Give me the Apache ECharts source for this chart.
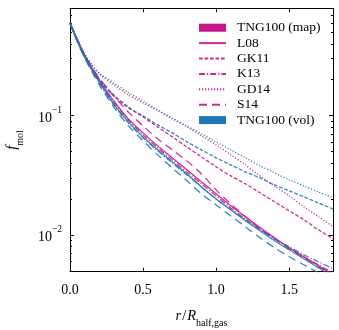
<!DOCTYPE html>
<html>
<head>
<meta charset="utf-8">
<script src="https://cdn.jsdelivr.net/npm/echarts@6/dist/echarts.min.js"></script>
<style>html,body{margin:0;padding:0;background:#fff;}#c{width:339px;height:330px;}</style>
</head>
<body>
<div id="c"></div>
<script>
// radius grid r / R_half,gas
const xs = [0,0.05,0.1,0.15,0.2,0.3,0.4,0.5,0.6,0.7,0.8,0.9,1.0,1.1,1.2,1.3,1.4,1.5,1.6,1.7,1.8];
// TNG100 (map) f_mol profiles
const L08_map  = [0.610,0.431,0.323,0.251,0.199,0.133,0.0938,0.0716,0.0557,0.0442,0.0351,0.0278,0.0221,0.0175,0.0142,0.0115,0.00944,0.00778,0.00654,0.0055,0.00462];
const GK11_map = [0.598,0.431,0.317,0.251,0.203,0.149,0.118,0.0975,0.0804,0.0663,0.0546,0.0450,0.0372,0.0312,0.0268,0.0225,0.0189,0.0159,0.0134,0.0110,0.00926];
const K13_map  = [0.598,0.423,0.317,0.246,0.195,0.130,0.092,0.0689,0.0536,0.0425,0.0337,0.0268,0.0212,0.0168,0.0136,0.0112,0.00926,0.00778,0.00654,0.0056,0.0048];
const GD14_map = [0.598,0.44,0.329,0.266,0.224,0.181,0.149,0.128,0.110,0.0938,0.0804,0.0676,0.0568,0.0468,0.0386,0.0312,0.0257,0.0212,0.0172,0.0142,0.0117];
const S14_map  = [0.587,0.431,0.323,0.256,0.207,0.146,0.107,0.082,0.0638,0.0516,0.0417,0.0324,0.0238,0.0182,0.0142,0.0112,0.00926,0.00763,0.00641,0.00539,0.00453];
// TNG100 (vol) f_mol profiles
const L08_vol  = [0.598,0.423,0.311,0.242,0.192,0.125,0.0886,0.0663,0.0516,0.0409,0.0324,0.0252,0.0200,0.0162,0.0131,0.0108,0.00891,0.00748,0.00629,0.00529,0.00444];
const GK11_vol = [0.598,0.431,0.311,0.246,0.199,0.146,0.116,0.0994,0.0836,0.0716,0.0602,0.0516,0.0442,0.0386,0.0337,0.0300,0.0262,0.0234,0.0208,0.0185,0.0165];
const K13_vol  = [0.598,0.423,0.311,0.242,0.188,0.123,0.0869,0.065,0.0506,0.0401,0.0318,0.0252,0.0200,0.0162,0.0134,0.0110,0.00926,0.00793,0.0068,0.00594,0.00519];
const GD14_vol = [0.598,0.44,0.329,0.266,0.228,0.188,0.156,0.133,0.112,0.0956,0.082,0.0703,0.0602,0.0516,0.0442,0.0379,0.0331,0.0289,0.0257,0.0229,0.0204];
const S14_vol  = [0.587,0.415,0.305,0.233,0.181,0.118,0.082,0.0614,0.0468,0.0364,0.0284,0.0221,0.0178,0.0144,0.0117,0.00944,0.00778,0.00654,0.0056,0.0048,0.00411];
// axes
const xMin = 0, xMax = 1.8;
const xTicks = [0, 0.5, 1.0, 1.5];
const yMin = 0.0049, yMax = 0.795;
const yMajor = [0.01, 0.1];
const yMinor = [0.006,0.007,0.008,0.009,0.02,0.03,0.04,0.05,0.06,0.07,0.08,0.09,0.2,0.3,0.4,0.5,0.6,0.7];
const legendNames = ['TNG100 (map)','L08','GK11','K13','GD14','S14','TNG100 (vol)'];

const FONT = 'Liberation Serif';
const MAP = '#c71585', VOL = '#1f77b4';
const LW = 1.25;
const styles = {
  L08: 'solid',
  GK11: [3.7, 1.8],
  K13: [6, 2, 1.2, 2],
  GD14: [1.2, 1.8],
  S14: [8, 5]
};
const lg = v => Math.log10(v);
function mk(vals, color, dash, name) {
  return {
    name: name, type: 'line', xAxisIndex: 0, yAxisIndex: 0,
    data: xs.map((x, i) => [x, lg(vals[i])]),
    showSymbol: false, symbol: 'none', smooth: 0.3,
    lineStyle: { color: color, width: LW, type: dash, opacity: 0.9 },
    itemStyle: { color: color },
    emphasis: { disabled: true }, silent: true
  };
}
const series = [
  { name: 'TNG100 (map)', type: 'line', data: [], itemStyle: { color: MAP }, lineStyle: { color: MAP } },
  mk(L08_map, MAP, styles.L08, 'L08'),
  mk(GK11_map, MAP, styles.GK11, 'GK11'),
  mk(K13_map, MAP, styles.K13, 'K13'),
  mk(GD14_map, MAP, styles.GD14, 'GD14'),
  mk(S14_map, MAP, styles.S14, 'S14'),
  mk(L08_vol, VOL, styles.L08, 'L08 (vol)'),
  mk(GK11_vol, VOL, styles.GK11, 'GK11 (vol)'),
  mk(K13_vol, VOL, styles.K13, 'K13 (vol)'),
  mk(GD14_vol, VOL, styles.GD14, 'GD14 (vol)'),
  mk(S14_vol, VOL, styles.S14, 'S14 (vol)'),
  { name: 'TNG100 (vol)', type: 'line', data: [], itemStyle: { color: VOL }, lineStyle: { color: VOL } }
];

const axisLine = { show: true, lineStyle: { color: '#000', width: 1 } };
function yAx(pos, ticks, len, labels, line) {
  return {
    type: 'value', position: pos, min: lg(yMin), max: lg(yMax),
    axisLine: line ? axisLine : { show: false },
    axisTick: { show: true, inside: true, length: len, customValues: ticks.map(lg), lineStyle: { color: '#000', width: 1 } },
    axisLabel: labels ? {
      show: true, customValues: ticks.map(lg), margin: 8,
      formatter: v => '{b|10}{s|\u2212' + Math.round(-v) + '}',
      rich: {
        b: { fontFamily: FONT, fontSize: 14, color: '#000', lineHeight: 20, verticalAlign: 'bottom' },
        s: { fontFamily: FONT, fontSize: 9.5, color: '#000', lineHeight: 10, verticalAlign: 'top' }
      }
    } : { show: false },
    splitLine: { show: false }, minorTick: { show: false }
  };
}
const option = {
  animation: false,
  backgroundColor: '#fff',
  grid: { left: 70, right: 6, top: 8.3, bottom: 58.3, containLabel: false, outerBoundsMode: 'none' },
  legend: {
    orient: 'vertical', left: 198, top: 20.7, itemWidth: 27, itemHeight: 8, itemGap: 1.4,
    selectedMode: false, padding: 0,
    itemStyle: { opacity: 0 },
    textStyle: { fontFamily: FONT, fontSize: 13.5, color: '#000', lineHeight: 12, padding: [0, 0, 0, 6] },
    data: legendNames.map(n => (n.indexOf('TNG100') === 0 ? { name: n, icon: 'rect', itemStyle: { opacity: 1 } } : n))
  },
  xAxis: [
    {
      type: 'value', position: 'bottom', min: xMin, max: xMax,
      axisLine: axisLine,
      axisTick: { show: true, inside: true, length: 4, customValues: xTicks, lineStyle: { color: '#000', width: 1 } },
      axisLabel: { show: true, customValues: xTicks, margin: 12, formatter: v => v.toFixed(1),
        fontFamily: FONT, fontSize: 14, color: '#000' },
      splitLine: { show: false },
      name: '{i|r}{n|/}{i|R}{s|half,gas}', nameLocation: 'middle', nameGap: 37,
      nameTextStyle: {
        rich: {
          i: { fontFamily: FONT, fontStyle: 'italic', fontSize: 14.5, color: '#000', lineHeight: 20, verticalAlign: 'top' },
          n: { fontFamily: FONT, fontSize: 14.5, color: '#000', lineHeight: 20, verticalAlign: 'top', padding: [0, 1, 0, 1] },
          s: { fontFamily: FONT, fontSize: 10, color: '#000', lineHeight: 14, verticalAlign: 'bottom' }
        }
      }
    },
    {
      type: 'value', position: 'top', min: xMin, max: xMax,
      axisLine: axisLine,
      axisTick: { show: true, inside: true, length: 4, customValues: xTicks, lineStyle: { color: '#000', width: 1 } },
      axisLabel: { show: false }, splitLine: { show: false }
    }
  ],
  yAxis: [
    Object.assign(yAx('left', yMajor, 4, true, true), {
      name: '{i|f}{s|mol}', nameLocation: 'middle', nameRotate: 90, nameGap: 45,
      nameTextStyle: {
        rich: {
          i: { fontFamily: FONT, fontStyle: 'italic', fontSize: 15, color: '#000', lineHeight: 20, verticalAlign: 'top' },
          s: { fontFamily: FONT, fontSize: 10, color: '#000', lineHeight: 13, verticalAlign: 'bottom' }
        }
      }
    }),
    yAx('left', yMinor, 2, false, false),
    yAx('right', yMajor, 4, false, true),
    yAx('right', yMinor, 2, false, false)
  ],
  series: series
};
const chart = echarts.init(document.getElementById('c'), null, { renderer: 'canvas' });
chart.setOption(option);
</script>
</body>
</html>
